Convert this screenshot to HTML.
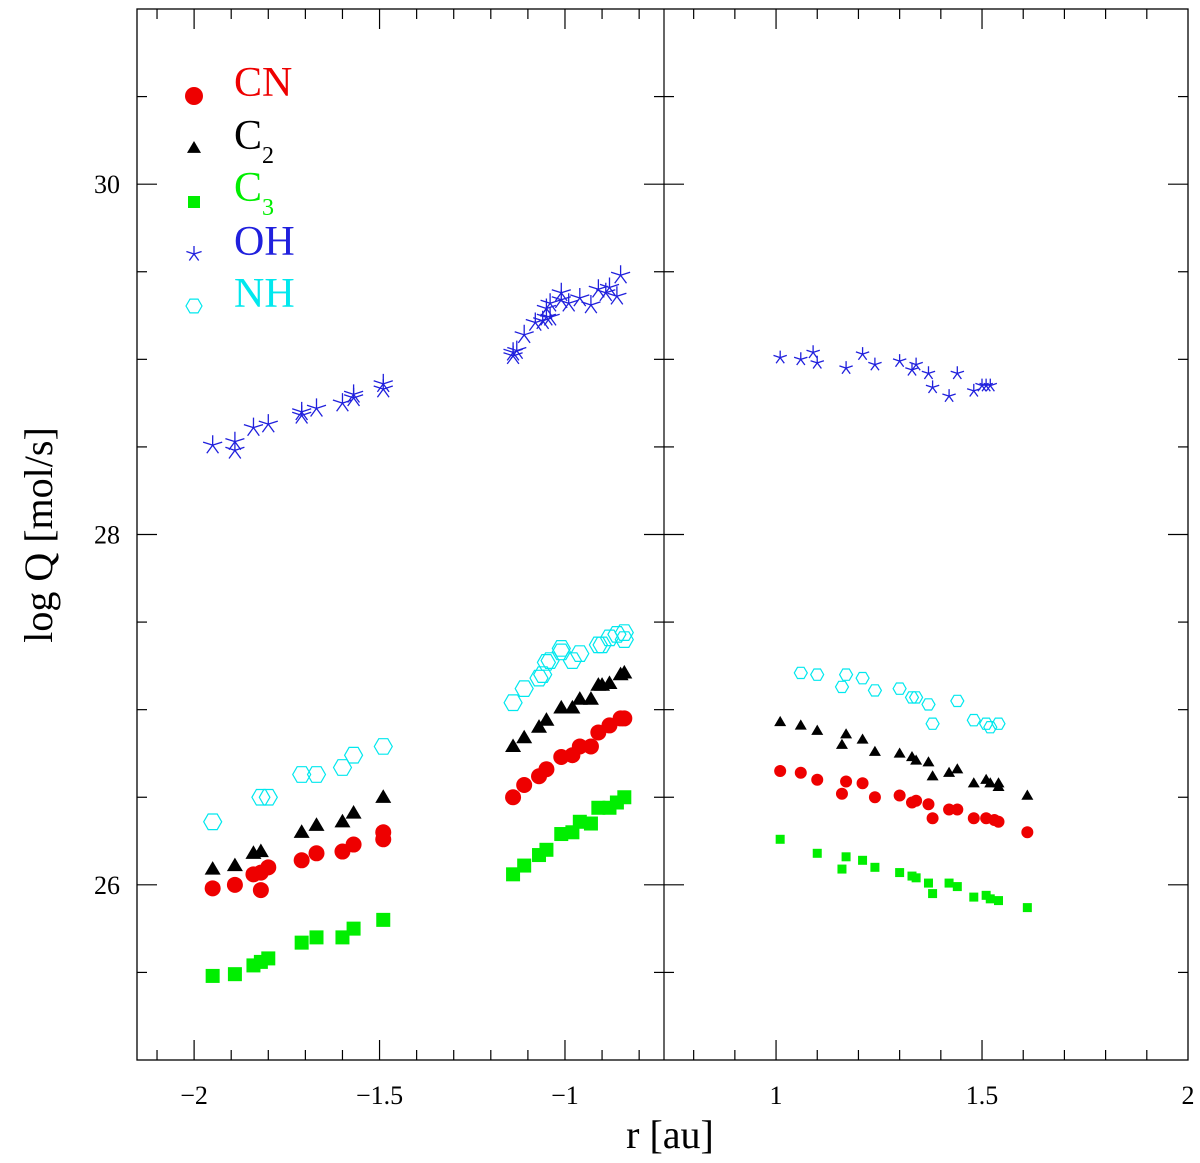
<!DOCTYPE html>
<html><head><meta charset="utf-8">
<style>
html,body{margin:0;padding:0;background:#fff;}
svg{display:block;}
text{font-family:"Liberation Serif",serif;}
</style></head>
<body>
<svg id="chart" width="1200" height="1163" viewBox="0 0 1200 1163" xmlns="http://www.w3.org/2000/svg">
  <g id="axes"></g>
  <g id="marks"></g>
  <g id="legend">
    <text x="234" y="96" font-size="42" fill="#ee0000">CN</text>
    <text x="234" y="149" font-size="42" fill="#000">C<tspan font-size="24" dy="14">2</tspan></text>
    <text x="234" y="201" font-size="42" fill="#00ee00">C<tspan font-size="24" dy="14">3</tspan></text>
    <text x="234" y="255" font-size="42" fill="#2020dd">OH</text>
    <text x="234" y="307" font-size="42" fill="#00e8ee">NH</text>
  </g>
  <text x="670" y="1148" font-size="40" text-anchor="middle">r [au]</text>
  <text transform="translate(52,535) rotate(-90)" font-size="40" text-anchor="middle">log Q [mol/s]</text>
</svg>
<script>
// ---------- data ----------
const yTicks = [26, 28, 30];
const leftXTicks = [-2, -1.5, -1];
const leftXTickLabels = ["\u22122", "\u22121.5", "\u22121"];
const rightXTicks = [1, 1.5, 2];
const rightXTickLabels = ["1", "1.5", "2"];

// left panel (negative r)
const cnLX = [-1.95,-1.89,-1.84,-1.82,-1.80,-1.82,-1.71,-1.67,-1.60,-1.57,-1.49,-1.49,-1.14,-1.11,-1.07,-1.05,-1.01,-0.98,-0.96,-0.93,-0.91,-0.88,-0.85,-0.84];
const cnLY = [25.98,26.00,26.06,26.07,26.10,25.97,26.14,26.18,26.19,26.23,26.30,26.26,26.50,26.57,26.62,26.66,26.73,26.74,26.79,26.79,26.87,26.91,26.95,26.95];
const c2LX = [-1.95,-1.89,-1.84,-1.82,-1.71,-1.67,-1.60,-1.57,-1.49,-1.14,-1.11,-1.07,-1.05,-1.01,-0.98,-0.96,-0.93,-0.91,-0.90,-0.88,-0.85,-0.84];
const c2LY = [26.09,26.11,26.18,26.19,26.30,26.34,26.36,26.41,26.50,26.79,26.84,26.90,26.94,27.01,27.01,27.06,27.06,27.14,27.14,27.15,27.20,27.21];
const c3LX = [-1.95,-1.89,-1.84,-1.82,-1.80,-1.71,-1.67,-1.60,-1.57,-1.49,-1.14,-1.11,-1.07,-1.05,-1.01,-0.98,-0.96,-0.93,-0.91,-0.88,-0.86,-0.84];
const c3LY = [25.48,25.49,25.54,25.56,25.58,25.67,25.70,25.70,25.75,25.80,26.06,26.11,26.17,26.20,26.29,26.30,26.36,26.35,26.44,26.44,26.47,26.50];
const ohLX = [-1.95,-1.89,-1.89,-1.84,-1.80,-1.71,-1.71,-1.67,-1.60,-1.57,-1.57,-1.49,-1.49,-1.14,-1.14,-1.13,-1.11,-1.08,-1.06,-1.05,-1.04,-1.05,-1.04,-1.01,-1.01,-0.99,-0.96,-0.93,-0.91,-0.89,-0.88,-0.86,-0.85];
const ohLY = [28.51,28.53,28.48,28.61,28.63,28.70,28.68,28.72,28.75,28.78,28.80,28.86,28.83,29.04,29.02,29.05,29.14,29.21,29.22,29.24,29.24,29.29,29.32,29.38,29.34,29.32,29.35,29.31,29.40,29.38,29.41,29.36,29.48];
const nhLX = [-1.95,-1.82,-1.80,-1.71,-1.67,-1.60,-1.57,-1.49,-1.14,-1.11,-1.07,-1.06,-1.05,-1.04,-1.01,-1.01,-0.98,-0.96,-0.91,-0.90,-0.88,-0.86,-0.84,-0.84];
const nhLY = [26.36,26.50,26.50,26.63,26.63,26.67,26.74,26.79,27.04,27.12,27.18,27.20,27.27,27.28,27.33,27.35,27.28,27.32,27.37,27.37,27.41,27.43,27.44,27.40];

// right panel (positive r)
const cnRX = [1.01,1.06,1.10,1.17,1.16,1.21,1.24,1.30,1.33,1.34,1.37,1.38,1.42,1.44,1.48,1.51,1.53,1.54,1.61];
const cnRY = [26.65,26.64,26.60,26.59,26.52,26.58,26.50,26.51,26.47,26.48,26.46,26.38,26.43,26.43,26.38,26.38,26.37,26.36,26.30];
const c2RX = [1.01,1.06,1.10,1.17,1.16,1.21,1.24,1.30,1.33,1.34,1.37,1.38,1.42,1.44,1.48,1.51,1.52,1.54,1.54,1.61];
const c2RY = [26.93,26.91,26.88,26.86,26.80,26.83,26.76,26.75,26.73,26.71,26.70,26.62,26.64,26.66,26.58,26.60,26.58,26.58,26.56,26.51];
const c3RX = [1.01,1.10,1.17,1.16,1.21,1.24,1.30,1.33,1.34,1.37,1.38,1.42,1.44,1.48,1.51,1.52,1.54,1.61];
const c3RY = [26.26,26.18,26.16,26.09,26.14,26.10,26.07,26.05,26.04,26.01,25.95,26.01,25.99,25.93,25.94,25.92,25.91,25.87];
const ohRX = [1.01,1.06,1.09,1.10,1.17,1.21,1.24,1.30,1.33,1.34,1.37,1.38,1.42,1.44,1.48,1.50,1.51,1.52];
const ohRY = [29.01,29.00,29.04,28.98,28.95,29.03,28.97,28.99,28.94,28.97,28.92,28.84,28.79,28.92,28.82,28.85,28.85,28.85];
const nhRX = [1.06,1.10,1.17,1.16,1.21,1.24,1.30,1.33,1.34,1.37,1.38,1.44,1.48,1.51,1.52,1.54];
const nhRY = [27.21,27.20,27.20,27.13,27.18,27.11,27.12,27.07,27.07,27.03,26.92,27.05,26.94,26.92,26.90,26.92];

// ---------- layout ----------
const NS = "http://www.w3.org/2000/svg";
const TOP = 9, BOT = 1060, LEFT = 137, MID = 664, RIGHT = 1188;
const YMIN = 25, YMAX = 31;
const L_XMIN = -2.154, L_XMAX = -0.733;
const R_XMIN = 0.728, R_XMAX = 2.0;
function yS(v){ return BOT - (v - YMIN) / (YMAX - YMIN) * (BOT - TOP); }
function xL(v){ return LEFT + (v - L_XMIN) / (L_XMAX - L_XMIN) * (MID - LEFT); }
function xR(v){ return MID + (v - R_XMIN) / (R_XMAX - R_XMIN) * (RIGHT - MID); }

const axes = document.getElementById('axes');
const marks = document.getElementById('marks');
function mk(tag, attrs, parent){
  const e = document.createElementNS(NS, tag);
  for (const k in attrs) e.setAttribute(k, attrs[k]);
  parent.appendChild(e);
  return e;
}
function line(x1,y1,x2,y2,name){
  const l = mk('line',{x1:x1,y1:y1,x2:x2,y2:y2,stroke:'#000','stroke-width':1.2},axes);
  
  
  return l;
}
// frame
const frame = mk('rect',{x:LEFT,y:TOP,width:RIGHT-LEFT,height:BOT-TOP,fill:'none',stroke:'#000','stroke-width':1.3},axes);


line(MID,TOP,MID,BOT,'panel-divider');

// y ticks
for (let v = 25.5; v < 31; v += 0.5) {
  const major = Math.abs(v - Math.round(v)) < 1e-6 && Math.round(v) % 2 === 0;
  const len = major ? 20 : 10;
  const y = yS(v);
  line(LEFT,y,LEFT+len,y,'y-tick');
  line(MID-len,y,MID,y,'y-tick');
  line(MID,y,MID+len,y,'y-tick');
  line(RIGHT-len,y,RIGHT,y,'y-tick');
}
yTicks.forEach(v => {
  const t = mk('text',{x:120,y:yS(v)+9,'font-size':26,'text-anchor':'end'},axes);
  t.textContent = String(v);
  
  
});
// x ticks
function xTicks(fx, a, b){
  for (let i = Math.ceil(a*10+1e-6); i <= Math.floor(b*10+1e-6); i++) {
    const v = i/10;
    const x = fx(v);
    if (x <= LEFT+1 || x >= RIGHT-1 || Math.abs(x-MID) < 1) continue;
    const len = (i % 5 === 0) ? 20 : 10;
    line(x,BOT,x,BOT-len,'x-tick');
    line(x,TOP,x,TOP+len,'x-tick');
  }
}
xTicks(xL, L_XMIN, L_XMAX);
xTicks(xR, R_XMIN, R_XMAX);
leftXTicks.forEach((v,i) => {
  const t = mk('text',{x:xL(v),y:1104,'font-size':26,'text-anchor':'middle'},axes);
  t.textContent = leftXTickLabels[i];
  
  
});
rightXTicks.forEach((v,i) => {
  const t = mk('text',{x:xR(v),y:1104,'font-size':26,'text-anchor':'middle'},axes);
  t.textContent = rightXTickLabels[i];
  
  
});

// ---------- markers ----------
function circle(x,y,s,parent){ return mk('circle',{cx:x,cy:y,r:s,fill:'#ee0000'},parent); }
function tri(x,y,s,parent){
  const h = s*1.0;
  return mk('polygon',{points:`${x},${y-h} ${x-s},${y+h*0.7} ${x+s},${y+h*0.7}`,fill:'#000'},parent);
}
function square(x,y,s,parent){ return mk('rect',{x:x-s,y:y-s,width:2*s,height:2*s,fill:'#00ee00'},parent); }
function hexa(x,y,s,parent){
  let p = [];
  for (let k=0;k<6;k++){ const a = Math.PI/3*k; p.push((x+s*Math.cos(a)).toFixed(1)+','+(y+s*Math.sin(a)).toFixed(1)); }
  return mk('polygon',{points:p.join(' '),fill:'none',stroke:'#00e8ee','stroke-width':1.2},parent);
}
function star(x,y,s,parent){
  let d = '';
  for (let k=0;k<5;k++){ const a = -Math.PI/2 + 2*Math.PI/5*k; d += `M${x},${y}L${(x+s*Math.cos(a)).toFixed(1)},${(y+s*Math.sin(a)).toFixed(1)}`; }
  return mk('path',{d:d,stroke:'#2020dd','stroke-width':1.3,fill:'none'},parent);
}
function series(xs, ys, fx, fn, size, name){
  const g = mk('g',{},marks);
  
  
  xs.forEach((v,i) => {
    const el = fn(fx(v), yS(ys[i]), size, g);
    
    
  });
}
series(ohLX, ohLY, xL, star, 10, 'oh-left-series');
series(nhLX, nhLY, xL, hexa, 9, 'nh-left-series');
series(c2LX, c2LY, xL, tri, 8, 'c2-left-series');
series(cnLX, cnLY, xL, circle, 8, 'cn-left-series');
series(c3LX, c3LY, xL, square, 7, 'c3-left-series');
series(ohRX, ohRY, xR, star, 7, 'oh-right-series');
series(nhRX, nhRY, xR, hexa, 6.5, 'nh-right-series');
series(c2RX, c2RY, xR, tri, 6, 'c2-right-series');
series(cnRX, cnRY, xR, circle, 6, 'cn-right-series');
series(c3RX, c3RY, xR, square, 4.5, 'c3-right-series');

// legend markers
const lg = document.getElementById('legend');
const lm = [circle(194,96,9,lg), tri(194,148,7,lg), square(194,202,6,lg), star(194,254,8,lg), hexa(194,306,8,lg)];
const lmNames = ['legend-marker-cn','legend-marker-c2','legend-marker-c3','legend-marker-oh','legend-marker-nh'];
lm.forEach((e,i) => {
  
  
});
</script>
</body></html>
